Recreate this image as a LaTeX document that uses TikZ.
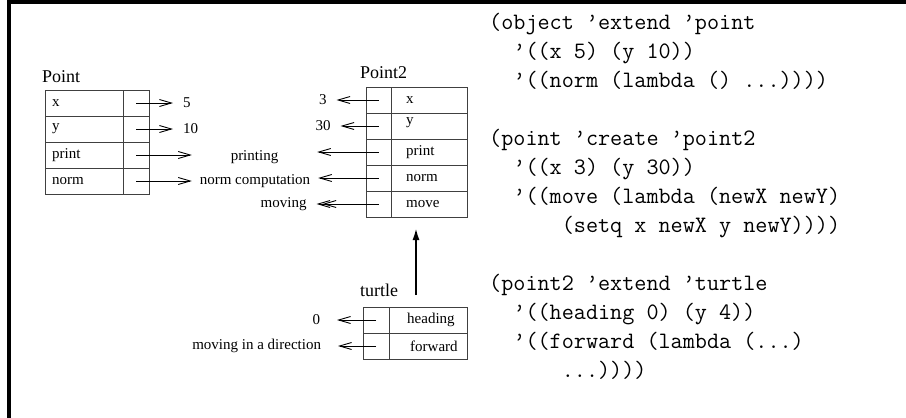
\documentclass[tikz,border=0pt]{standalone}
\usepackage{fontspec}
\setmainfont{Liberation Serif}
\usetikzlibrary{positioning}
\usetikzlibrary{arrows.meta}
\tikzstyle{every picture}=[x=1pt, y=-1pt, >={Straight Barb[length=12pt,width=7pt]}]
\tikzstyle{every node}=[font=\fontsize{15}{18}\selectfont]
\tikzstyle{slot}=[draw=black!75, line width=0.9pt, minimum height=26pt, inner sep=0pt, outer sep=0pt]
\tikzstyle{slotname}[7pt]=[anchor=west, inner sep=0pt, xshift=#1]
\tikzstyle{datum}=[inner sep=0pt, outer xsep=10pt]
\tikzstyle{objname}=[inner sep=0pt, font=\fontsize{18}{21}\selectfont]
\tikzstyle{link}=[->, line width=0.9pt]
\tikzstyle{code}=[inner sep=0pt, align=left, font=\ttfamily\fontsize{23.5}{29}\selectfont]

\begin{document}
\begin{tikzpicture}
\fill[white] (0,0) rectangle (906,418);
\useasboundingbox (0,0) rectangle (906,418);
\draw[line width=3.5pt] (906,2) -| (9,418);

% object Point
\node[slot, minimum width=78pt, label={[slotname]west:x}] (PtX) at (84,103) {};
\node[slot, minimum width=78pt, below=0pt of PtX, label={[slotname]west:y}] (PtY) {};
\node[slot, minimum width=78pt, below=0pt of PtY, label={[slotname]west:print}] (PtP) {};
\node[slot, minimum width=78pt, below=0pt of PtP, label={[slotname]west:norm}] (PtN) {};
\foreach \r in {X,Y,P,N}
  \node[slot, minimum width=26pt, right=0pt of Pt\r] (Pt\r v) {};
\node[objname, above right=7pt and -3pt of PtX.north west] (Point) {Point};

% object Point2
\node[slot, minimum width=76pt, label={[slotname=15pt]west:x}] (P2X) at (429,100) {};
\node[slot, minimum width=76pt, below=0pt of P2X, label={[slotname=15pt, yshift=3pt]west:y}] (P2Y) {};
\node[slot, minimum width=76pt, below=0pt of P2Y, label={[slotname=15pt]west:print}] (P2P) {};
\node[slot, minimum width=76pt, below=0pt of P2P, label={[slotname=15pt]west:norm}] (P2N) {};
\node[slot, minimum width=76pt, below=0pt of P2N, label={[slotname=15pt]west:move}] (P2M) {};
\foreach \r in {X,Y,P,N,M}
  \node[slot, minimum width=25pt, left=0pt of P2\r] (P2\r v) {};
\node[objname, above right=8pt and -6pt of P2Xv.north west] (Point2) {Point2};

% object turtle
\node[slot, minimum width=78pt, label={[slotname=18pt]west:heading}] (TuH) at (428,320) {};
\node[slot, minimum width=78pt, below=0pt of TuH, label={[slotname=21pt]west:forward}] (TuF) {};
\foreach \r in {H,F}
  \node[slot, minimum width=26pt, left=0pt of Tu\r] (Tu\r v) {};
\node[objname, above right=10pt and -3pt of TuHv.north west] (Turtle) {turtle};

% slot values
\node[datum, right=37pt of PtXv.center] (Five) {5};
\node[datum, right=37pt of PtYv.center] (Ten) {10};
\node[datum, left=42pt of P2Xv.center] (Three) {3};
\node[datum, left=38pt of P2Yv.center] (Thirty) {30};
\node[inner sep=0pt, minimum width=125pt] (Printing) at (254.5,157) {printing};
\node[inner sep=0pt, minimum width=126pt] (NormComp) at (255,181) {norm computation};
\node[datum, left=62pt of P2Mv.center] (Moving) {moving};
\node[datum, outer xsep=17pt, left=39pt of TuHv.center] (Zero) {0};
\node[datum, outer xsep=17pt, left=38pt of TuFv.center] (MoveDir) {moving in a direction};

\draw[link] (PtXv.center) -- (PtXv.center -| Five.west);
\draw[link] (PtYv.center) -- (PtYv.center -| Ten.west);
\draw[link] (PtPv.center) -- (PtPv.center -| Printing.west);
\draw[link] (PtNv.center) -- (PtNv.center -| NormComp.west);

\draw[link] (P2Xv.center) -- (P2Xv.center -| Three.east);
\draw[link] (P2Yv.center) -- (P2Yv.center -| Thirty.east);
\draw[link] (P2Pv.center) -- (P2Pv.center -| Printing.east);
\draw[link] (P2Nv.center) -- (P2Nv.center -| NormComp.east);
\draw[line width=0.9pt, -{Straight Barb[length=12pt,width=7pt,sep=-8pt]Straight Barb[length=12pt,width=7pt]}]
  (P2Mv.center) -- (P2Mv.center -| Moving.east);

\draw[link] (TuHv.center) -- (TuHv.center -| Zero.east);
\draw[link] (TuFv.center) -- (TuFv.center -| MoveDir.east);

% turtle inherits from Point2
\coordinate[above=12pt of TuH.north, xshift=-12pt] (Inh);
\draw[line width=2pt, -{Latex[length=12pt,width=7pt]}, shorten >=11pt] (Inh) -- (Inh |- P2M.south);

% the code
\node[code, anchor=north west] (Code) at (489,13) {(object ’extend ’point\\
~~’((x 5) (y 10))\\
~~’((norm (lambda () ...))))\\[29pt]
(point ’create ’point2\\
~~’((x 3) (y 30))\\
~~’((move (lambda (newX newY)\\
~~~~~~(setq x newX y newY))))\\[29pt]
(point2 ’extend ’turtle\\
~~’((heading 0) (y 4))\\
~~’((forward (lambda (...)\\
~~~~~~...))))};
\end{tikzpicture}
\end{document}
